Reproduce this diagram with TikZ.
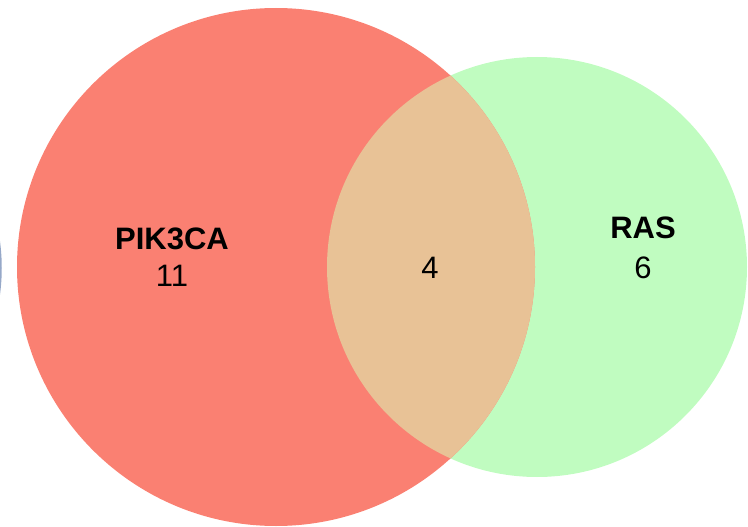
\documentclass[tikz,border=0pt]{standalone}
\usepackage{fontspec}
\setmainfont{Liberation Sans}
\definecolor{pikred}{RGB}{250,128,114}
\definecolor{rasgreen}{RGB}{192,252,192}
\definecolor{overlap}{RGB}{232,194,150}
\definecolor{edgeblue}{RGB}{150,168,200}
\tikzset{
  setlabel/.style={font=\fontsize{31}{36}\selectfont\bfseries},
  count/.style={font=\fontsize{31}{36}\selectfont}
}
\begin{document}
\begin{tikzpicture}[x=1pt, y=-1pt]
\useasboundingbox (0,0) rectangle (748,527);
\def\PikCircle{(276,267) circle (259)}
\def\RasCircle{(537,267) circle (210)}

% partly visible third set
\draw[edgeblue, line width=1.5pt] (-200,268) circle (201);

\fill[rasgreen] \RasCircle;
\fill[pikred] \PikCircle;
\begin{scope}
  \clip \PikCircle;
  \fill[overlap] \RasCircle;
\end{scope}

\node[setlabel] (pik) at (172,239) {PIK3CA};
\node[count] (pikn) at (172,276) {11};
\node[count] (both) at (430,268) {4};
\node[setlabel] (ras) at (643,228) {RAS};
\node[count] (rasn) at (643,268) {6};
\end{tikzpicture}
\end{document}
